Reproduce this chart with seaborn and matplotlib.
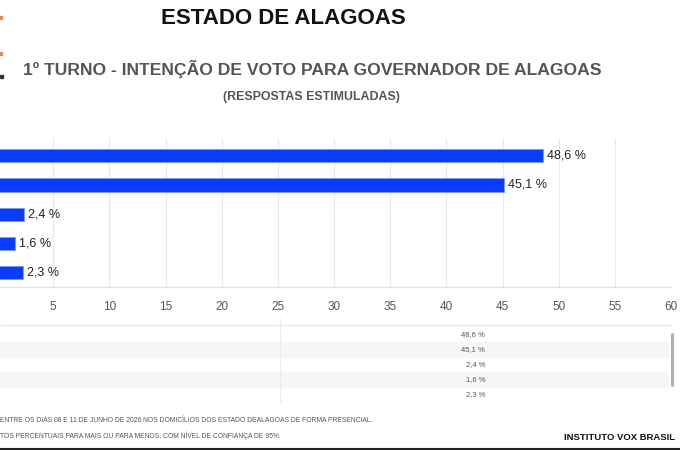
import matplotlib
matplotlib.use("Agg")
import matplotlib.pyplot as plt
import seaborn as sns
import pandas as pd
from matplotlib.patches import Rectangle
from matplotlib.lines import Line2D

# ---- data ----
candidatos = ["Candidato 1", "Candidato 2", "Candidato 3", "Candidato 4", "Candidato 5"]
valores = [48.6, 45.1, 2.4, 1.6, 2.3]
x_ticks = [5, 10, 15, 20, 25, 30, 35, 40, 45, 50, 55, 60]
titulo = "ESTADO DE ALAGOAS"
subtitulo = "1º TURNO - INTENÇÃO DE VOTO PARA GOVERNADOR DE ALAGOAS"
subtitulo2 = "(RESPOSTAS ESTIMULADAS)"
nota1 = "ENTRE OS DIAS 08 E 11 DE JUNHO DE 2026 NOS DOMICÍLIOS DOS ESTADO DEALAGOAS DE FORMA PRESENCIAL."
nota2 = "TOS PERCENTUAIS PARA MAIS OU PARA MENOS, COM NÍVEL DE CONFIANÇA DE 95%."
fonte = "INSTITUTO VOX BRASIL"

def fmt(v):
    return f"{v:.1f}".replace(".", ",") + " %"

df = pd.DataFrame({"candidato": candidatos, "valor": valores})

sns.set_theme(style="white")
plt.rcParams["font.family"] = ["Liberation Sans", "DejaVu Sans"]

W, H = 680, 450
fig = plt.figure(figsize=(W / 100, H / 100), dpi=100)

def fx(x):
    return x / W

def fy(y):
    return 1 - y / H

# axes placement (left part of the chart is cropped off)
x0_px, x60_px = -2.9, 671.0
top_px, bot_px = 138.0, 286.7
ax = fig.add_axes([fx(x0_px), fy(bot_px), (x60_px - x0_px) / W, (bot_px - top_px) / H])

bar_color = "#0a3cff"
sns.barplot(data=df, x="valor", y="candidato", orient="h", color=bar_color,
            width=0.45, saturation=1, ax=ax, edgecolor="#7d97ff", linewidth=0.6)

ax.set_xlim(0, 60)
ax.set_ylim(4.49, -0.61)
ax.set_xticks(x_ticks)
ax.set_xticklabels([str(t) for t in x_ticks])
ax.set_yticks(range(len(candidatos)))
ax.set_yticklabels([""] * len(candidatos))
ax.set_xlabel("")
ax.set_ylabel("")
ax.tick_params(axis="x", length=0, pad=10, labelsize=8.5, labelcolor="#555555")
ax.tick_params(axis="y", length=0)
ax.grid(axis="x", color="#e9e9e9", linewidth=0.9)
ax.set_axisbelow(True)
for s in ["top", "right", "left"]:
    ax.spines[s].set_visible(False)
ax.spines["bottom"].set_color("#e2e2e2")
ax.spines["bottom"].set_linewidth(1.0)

ax.bar_label(ax.containers[0], labels=[fmt(v) for v in valores], padding=3,
             fontsize=9, color="#222222")

# ---- titles ----
fig.text(fx(283), fy(19), titulo, ha="center", va="center", fontsize=16,
         fontweight="bold", color="#111111")
fig.text(fx(312.5), fy(68.5), subtitulo, ha="center", va="center", fontsize=12.6,
         fontweight="bold", color="#555555")
fig.text(fx(311), fy(97), subtitulo2, ha="center", va="center", fontsize=8.9,
         fontweight="bold", color="#555555")

# cropped logo marks at left edge
fig.patches.append(Rectangle((fx(0), fy(19)), fx(2), 3 / H, transform=fig.transFigure,
                             color="#e98a55", zorder=3))
fig.patches.append(Rectangle((fx(0), fy(55)), fx(2), 3 / H, transform=fig.transFigure,
                             color="#e98a55", zorder=3))
fig.patches.append(Rectangle((fx(0), fy(78)), fx(2.5), 3 / H, transform=fig.transFigure,
                             color="#333344", zorder=3))

# ---- data table below ----
fig.lines.append(Line2D([fx(0), fx(672)], [fy(325), fy(325)], transform=fig.transFigure,
                        color="#e6e6e6", lw=0.8))
row_top = 326.7
row_h = 15.0
for i, v in enumerate(valores):
    y_top = row_top + i * row_h
    if i % 2 == 1:
        fig.patches.append(Rectangle((fx(0), fy(y_top + row_h)), fx(668), row_h / H,
                                     transform=fig.transFigure, color="#f6f6f6", zorder=0))
    fig.text(fx(485), fy(y_top + row_h / 2), fmt(v), ha="right", va="center",
             fontsize=5.5, color="#555555")
fig.lines.append(Line2D([fx(280), fx(280)], [fy(318), fy(402)], transform=fig.transFigure,
                        color="#ececec", lw=0.8))
# scrollbar
fig.lines.append(Line2D([fx(672), fx(672)], [fy(334), fy(385)], transform=fig.transFigure,
                        color="#b0b0b0", lw=2.2, solid_capstyle="round"))

# ---- footer ----
fig.text(fx(0), fy(421), nota1, ha="left", va="center", fontsize=4.9, color="#555555")
fig.text(fx(0), fy(436), nota2, ha="left", va="center", fontsize=4.9, color="#555555")
fig.text(fx(675), fy(437), fonte, ha="right", va="center", fontsize=6.8,
         fontweight="bold", color="#111111")
fig.lines.append(Line2D([0, 1], [fy(449), fy(449)], transform=fig.transFigure,
                        color="#222222", lw=1.5))

fig.savefig("out.png", dpi=100)
